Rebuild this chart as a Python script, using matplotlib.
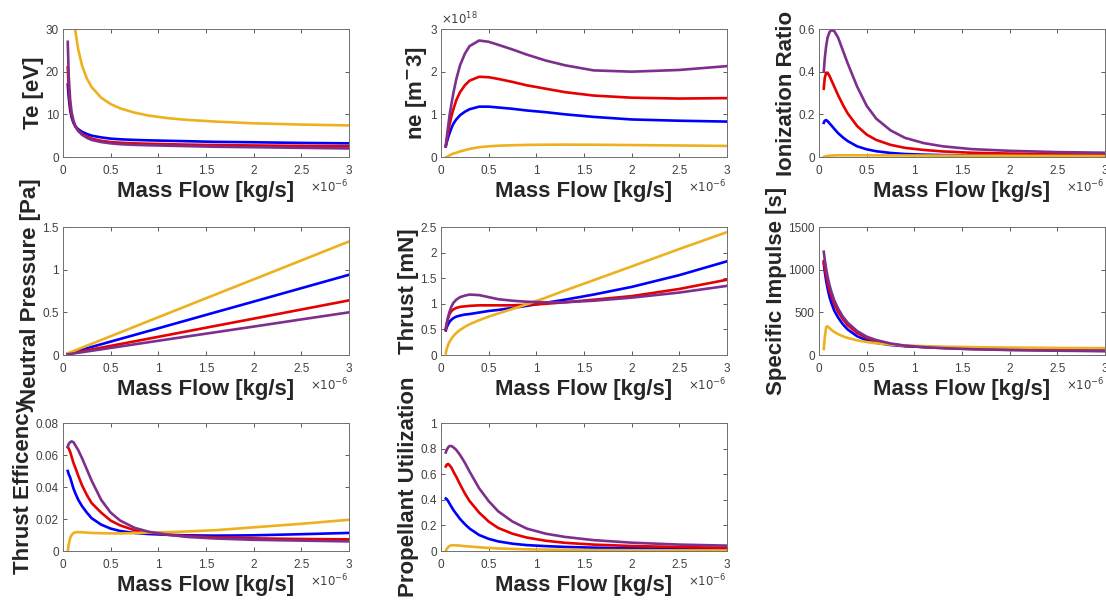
import matplotlib
matplotlib.use("Agg")
import matplotlib.pyplot as plt
from matplotlib.ticker import FuncFormatter

plt.rcParams['font.family'] = ['Liberation Sans', 'DejaVu Sans']

# mass flow, units of 1e-6 kg/s
mass_flow = [0.05, 0.06, 0.075, 0.09, 0.11, 0.13, 0.16, 0.2, 0.25, 0.3, 0.4,
             0.5, 0.6, 0.75, 0.9, 1.1, 1.3, 1.6, 2.0, 2.5, 3.0]

te_blue = [17, 14, 11, 9.3, 8.0, 7.2, 6.5, 5.9, 5.4, 5.0, 4.6, 4.3, 4.15, 4.0, 3.9, 3.8, 3.7, 3.55, 3.45, 3.3, 3.2]
te_red = [21, 16, 12, 9.8, 8.2, 7.1, 6.2, 5.4, 4.8, 4.3, 3.8, 3.5, 3.35, 3.2, 3.1, 3.0, 2.9, 2.8, 2.7, 2.6, 2.5]
te_yellow = [66, 56, 46, 39.7, 33.7, 29.5, 25.2, 21.4, 18.4, 16.4, 13.9, 12.4, 11.4, 10.4, 9.7, 9.1, 8.7, 8.3, 7.9, 7.6, 7.4]
te_purple = [27, 19, 13.5, 10.5, 8.5, 7.2, 6.1, 5.2, 4.5, 4.0, 3.5, 3.2, 3.0, 2.85, 2.75, 2.65, 2.55, 2.4, 2.3, 2.15, 2.0]

# electron density, units of 1e18 m^-3
ne_blue = [0.25, 0.34, 0.46, 0.56, 0.68, 0.78, 0.88, 0.98, 1.06, 1.12, 1.18, 1.18, 1.16, 1.13, 1.09, 1.05, 1.0, 0.94, 0.88, 0.85, 0.83]
ne_red = [0.25, 0.4, 0.58, 0.76, 0.96, 1.12, 1.33, 1.52, 1.68, 1.79, 1.88, 1.87, 1.83, 1.76, 1.68, 1.6, 1.52, 1.44, 1.39, 1.37, 1.38]
ne_yellow = [-0.01, 0.0, 0.02, 0.04, 0.06, 0.08, 0.1, 0.13, 0.16, 0.19, 0.23, 0.25, 0.265, 0.275, 0.283, 0.288, 0.29, 0.287, 0.28, 0.27, 0.26]
ne_purple = [0.25, 0.45, 0.72, 0.98, 1.25, 1.5, 1.82, 2.15, 2.42, 2.6, 2.73, 2.7, 2.63, 2.52, 2.4, 2.26, 2.15, 2.03, 2.0, 2.04, 2.13]

ion_blue = [0.16, 0.17, 0.173, 0.168, 0.158, 0.148, 0.132, 0.112, 0.092, 0.075, 0.05, 0.036, 0.027, 0.019, 0.014, 0.011, 0.009, 0.007, 0.006, 0.0055, 0.005]
ion_red = [0.32, 0.37, 0.395, 0.395, 0.38, 0.36, 0.33, 0.29, 0.245, 0.205, 0.145, 0.105, 0.08, 0.057, 0.043, 0.033, 0.026, 0.02, 0.016, 0.013, 0.011]
ion_yellow = [0.0, 0.002, 0.004, 0.005, 0.006, 0.007, 0.0075, 0.008, 0.008, 0.008, 0.008, 0.008, 0.0078, 0.0075, 0.007, 0.0068, 0.0065, 0.006, 0.0055, 0.005, 0.0045]
ion_purple = [0.4, 0.46, 0.52, 0.56, 0.585, 0.595, 0.59, 0.56, 0.5, 0.44, 0.33, 0.24, 0.18, 0.125, 0.09, 0.065, 0.05, 0.037, 0.029, 0.023, 0.02]

# neutral pressure is a straight line, so fewer samples
pn_flow = [0.05, 0.5, 1.0, 1.5, 2.0, 2.5, 3.0]
pn_blue = [0.016, 0.157, 0.313, 0.47, 0.626, 0.783, 0.94]
pn_red = [0.011, 0.107, 0.213, 0.32, 0.426, 0.533, 0.64]
pn_yellow = [0.02, 0.22, 0.443, 0.665, 0.886, 1.108, 1.33]
pn_purple = [0.008, 0.083, 0.167, 0.25, 0.333, 0.417, 0.5]

thrust_blue = [0.48, 0.54, 0.6, 0.65, 0.69, 0.72, 0.75, 0.77, 0.79, 0.8, 0.83, 0.86, 0.88, 0.92, 0.96, 1.02, 1.08, 1.18, 1.33, 1.56, 1.83]
thrust_red = [0.5, 0.6, 0.72, 0.8, 0.86, 0.89, 0.92, 0.94, 0.95, 0.96, 0.97, 0.97, 0.97, 0.97, 0.98, 1.0, 1.03, 1.08, 1.15, 1.29, 1.47]
thrust_yellow = [0.03, 0.12, 0.2, 0.26, 0.32, 0.37, 0.43, 0.49, 0.55, 0.6, 0.68, 0.75, 0.81, 0.9, 0.99, 1.12, 1.26, 1.46, 1.73, 2.07, 2.4]
thrust_purple = [0.52, 0.62, 0.75, 0.85, 0.95, 1.02, 1.08, 1.13, 1.16, 1.18, 1.17, 1.13, 1.09, 1.06, 1.04, 1.03, 1.03, 1.06, 1.12, 1.22, 1.35]

isp_blue = [1080, 980, 870, 780, 680, 610, 520, 440, 360, 300, 220, 172, 142, 117, 103, 94, 87, 78, 70, 64, 60]
isp_red = [1100, 1020, 930, 850, 760, 690, 600, 505, 420, 350, 260, 200, 165, 128, 107, 92, 82, 70, 61, 54, 48]
isp_yellow = [70, 200, 330, 335, 315, 295, 270, 245, 220, 200, 172, 152, 138, 122, 112, 104, 98, 92, 87, 83, 80]
isp_purple = [1210, 1120, 1010, 920, 820, 740, 640, 545, 450, 380, 280, 215, 175, 135, 110, 92, 80, 68, 58, 50, 45]

eff_blue = [0.05, 0.048, 0.046, 0.043, 0.039, 0.036, 0.032, 0.028, 0.024, 0.0205, 0.0165, 0.014, 0.0125, 0.0113, 0.0106, 0.0101, 0.0098, 0.0096, 0.0098, 0.0105, 0.0113]
eff_red = [0.065, 0.064, 0.062, 0.059, 0.055, 0.052, 0.047, 0.041, 0.035, 0.03, 0.024, 0.019, 0.016, 0.013, 0.0115, 0.0102, 0.0093, 0.0085, 0.0079, 0.0075, 0.0073]
eff_yellow = [0.0, 0.004, 0.008, 0.01, 0.0112, 0.0117, 0.0118, 0.0117, 0.0115, 0.0113, 0.0111, 0.011, 0.011, 0.0112, 0.0115, 0.0118, 0.0122, 0.013, 0.0148, 0.017, 0.0195]
eff_purple = [0.065, 0.067, 0.068, 0.0685, 0.068, 0.066, 0.063, 0.058, 0.051, 0.044, 0.032, 0.024, 0.019, 0.0145, 0.012, 0.0102, 0.0088, 0.0078, 0.007, 0.0065, 0.006]

util_blue = [0.41, 0.405, 0.39, 0.37, 0.345, 0.32, 0.29, 0.25, 0.21, 0.175, 0.125, 0.095, 0.075, 0.057, 0.046, 0.038, 0.032, 0.026, 0.021, 0.017, 0.015]
util_red = [0.66, 0.675, 0.68, 0.67, 0.65, 0.62, 0.58, 0.52, 0.45, 0.39, 0.3, 0.23, 0.18, 0.135, 0.105, 0.08, 0.064, 0.05, 0.039, 0.031, 0.025]
util_yellow = [0.0, 0.015, 0.03, 0.04, 0.044, 0.045, 0.044, 0.042, 0.038, 0.035, 0.029, 0.024, 0.02, 0.016, 0.013, 0.011, 0.009, 0.007, 0.006, 0.005, 0.004]
util_purple = [0.77, 0.79, 0.81, 0.82, 0.82, 0.81, 0.79, 0.75, 0.69, 0.62, 0.49, 0.39, 0.31, 0.23, 0.175, 0.135, 0.11, 0.085, 0.065, 0.05, 0.042]

colors = ['#0000ff', '#e60000', '#edb120', '#7e2f8e']

panels = [
    ('Te [eV]', mass_flow, [te_blue, te_red, te_yellow, te_purple], [0, 10, 20, 30]),
    (r'ne [m$^{\bf{-}}$3]', mass_flow, [ne_blue, ne_red, ne_yellow, ne_purple], [0, 1, 2, 3]),
    ('Ionization Ratio', mass_flow, [ion_blue, ion_red, ion_yellow, ion_purple], [0, 0.2, 0.4, 0.6]),
    ('Neutral Pressure [Pa]', pn_flow, [pn_blue, pn_red, pn_yellow, pn_purple], [0, 0.5, 1, 1.5]),
    ('Thrust [mN]', mass_flow, [thrust_blue, thrust_red, thrust_yellow, thrust_purple], [0, 0.5, 1, 1.5, 2, 2.5]),
    ('Specific Impulse [s]', mass_flow, [isp_blue, isp_red, isp_yellow, isp_purple], [0, 500, 1000, 1500]),
    ('Thrust Efficency', mass_flow, [eff_blue, eff_red, eff_yellow, eff_purple], [0, 0.02, 0.04, 0.06, 0.08]),
    ('Propellant Utilization', mass_flow, [util_blue, util_red, util_yellow, util_purple], [0, 0.2, 0.4, 0.6, 0.8, 1]),
]

W, H = 1106, 602
col_left = [63, 441, 819]
row_top = [29, 227, 423]
ax_w, ax_h = 286, 128

fig = plt.figure(figsize=(W / 100, H / 100), dpi=100)
gray = '#404040'

for i, (label, xs, series, yticks) in enumerate(panels):
    r, c = divmod(i, 3)
    ax = fig.add_axes([col_left[c] / W, 1 - (row_top[r] + ax_h) / H, ax_w / W, ax_h / H])
    for ys, col in zip(series, colors):
        ax.plot(xs, ys, color=col, lw=1.9)
    ax.set_xlim(0, 3)
    ax.set_ylim(yticks[0], yticks[-1])
    ax.set_xticks([0, 0.5, 1, 1.5, 2, 2.5, 3])
    ax.set_yticks(yticks)
    fmt = FuncFormatter(lambda v, p: '%g' % v)
    ax.xaxis.set_major_formatter(fmt)
    ax.yaxis.set_major_formatter(fmt)
    ax.tick_params(direction='in', top=True, right=True, length=3, width=0.6,
                   labelsize=8.5, labelcolor=gray, color=gray, pad=3)
    ax.tick_params(axis='x', pad=6)
    for s in ax.spines.values():
        s.set_color('#707070')
        s.set_linewidth(0.7)
    ax.set_xlabel('Mass Flow [kg/s]', fontsize=16, fontweight='bold', color='#262626', labelpad=3)
    ax.set_ylabel(label, fontsize=16, fontweight='bold', color='#262626', labelpad=1)
    ax.text(1.0, -0.17, r'$\times10^{-6}$', transform=ax.transAxes, ha='right', va='top',
            fontsize=8.5, color=gray)
    if i == 1:
        ax.text(0.0, 1.01, r'$\times10^{18}$', transform=ax.transAxes, ha='left', va='bottom',
                fontsize=8.5, color=gray)

fig.savefig('out.png', dpi=100)
